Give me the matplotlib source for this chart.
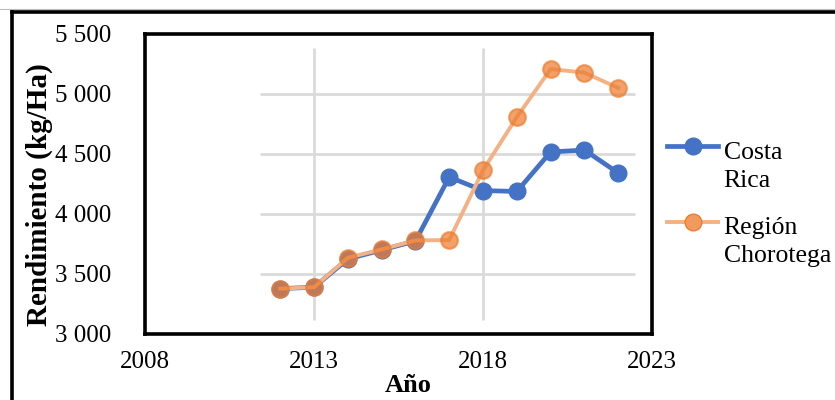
import matplotlib
matplotlib.use("Agg")
import matplotlib.pyplot as plt
from matplotlib.lines import Line2D
from matplotlib.legend_handler import HandlerLine2D
from matplotlib.transforms import Affine2D

years = [2012, 2013, 2014, 2015, 2016, 2017, 2018, 2019, 2020, 2021, 2022]
costa_rica = [3378, 3390, 3625, 3700, 3775, 4308, 4195, 4188, 4517, 4533, 4342]
chorotega = [3378, 3390, 3635, 3705, 3780, 3783, 4365, 4808, 5208, 5178, 5050]
series_labels = ["Costa\nRica", "Región\nChorotega"]
x_ticks = [2008, 2013, 2018, 2023]
y_ticks = [3000, 3500, 4000, 4500, 5000, 5500]
y_ticklabels = ["3 000", "3 500", "4 000", "4 500", "5 000", "5 500"]
x_title = "Año"
y_title = "Rendimiento (kg/Ha)"

plt.rcParams["font.family"] = ["Liberation Serif", "DejaVu Serif"]

blue = "#4472C4"
orange_line = "#F4B183"
orange_mark = "#ED7D31"
tick_fs = 18
leg_fs = 18.5
leg_linespacing = 1.35


class FirstLineHandler(HandlerLine2D):
    """Line handler that lines up with the first row of a two-line label."""

    def create_artists(self, legend, orig_handle, xdescent, ydescent,
                       width, height, fontsize, trans):
        artists = super().create_artists(legend, orig_handle, xdescent,
                                         ydescent, width, height, fontsize,
                                         trans)
        dy = 0.5 * fontsize * legend.figure.dpi / 72.0 * 1.17 * leg_linespacing
        shift = Affine2D().translate(0, dy)
        for a in artists:
            a.set_transform(a.get_transform() + shift)
        return artists


fig = plt.figure(figsize=(8.35, 4.0), dpi=100)
ax = fig.add_axes([0.1737, 0.165, 0.6072, 0.75])

ax.set_xlim(x_ticks[0], x_ticks[-1])
ax.set_ylim(y_ticks[0], y_ticks[-1])

# faint inner grid, limited to the region around the data
gx0, gx1 = years[0] - 0.6, years[-1] + 0.5
gy0, gy1 = y_ticks[0] + 115, y_ticks[-1] - 120
ax.hlines(y_ticks[1:-1], gx0, gx1, color="#DADADA", lw=2.0, zorder=1)
ax.vlines(x_ticks[1:-1], gy0, gy1, color="#DADADA", lw=2.0, zorder=1)

ax.plot(years, costa_rica, color=blue, lw=3.4, marker="o", ms=12,
        mfc=blue, mec=blue, zorder=3)
ax.plot(years, chorotega, color=orange_line, lw=2.8, zorder=4)
ax.plot(years, chorotega, color=orange_line, lw=0, marker="o", ms=12,
        mfc=orange_mark, mec=orange_mark, mew=1.5, alpha=0.72, zorder=5)

for s in ax.spines.values():
    s.set_linewidth(2.6)
    s.set_color("black")

ax.set_xticks(x_ticks)
ax.set_yticks(y_ticks)
ax.set_yticklabels(y_ticklabels)
ax.tick_params(axis="both", length=0, labelsize=tick_fs)
ax.tick_params(axis="y", pad=24)
ax.tick_params(axis="x", pad=12)

ax.set_xlabel(x_title, fontsize=19, fontweight="bold")
ax.set_ylabel(y_title, fontsize=21, fontweight="bold")
ax.xaxis.set_label_coords(0.52, -0.135)
ax.yaxis.set_label_coords(-0.182, 0.465)

handles = [
    Line2D([], [], color=blue, lw=3.4, marker="o", ms=12, mfc=blue, mec=blue),
    Line2D([], [], color=orange_line, lw=2.8, marker="o", ms=12,
           mfc="#F09A5E", mec=orange_mark),
]
leg = ax.legend(handles, series_labels, loc="upper left",
                bbox_to_anchor=(1.01, 0.675), frameon=False, fontsize=leg_fs,
                handlelength=1.97, handletextpad=0.22, labelspacing=1.0,
                borderaxespad=0, handler_map={Line2D: FirstLineHandler()})
for t in leg.get_texts():
    t.set_linespacing(leg_linespacing)

# outer border
fig.add_artist(Line2D([0, 1], [1 - 8.5 / 400, 1 - 8.5 / 400],
                      transform=fig.transFigure, color="#BBBBBB", lw=0.8))
fig.add_artist(Line2D([11.5 / 835, 11.5 / 835], [0, 1 - 11.5 / 400],
                      transform=fig.transFigure, color="black", lw=2.6))
fig.add_artist(Line2D([11.5 / 835, 1], [1 - 11.5 / 400, 1 - 11.5 / 400],
                      transform=fig.transFigure, color="black", lw=2.6))

fig.savefig("out.png", dpi=100)
